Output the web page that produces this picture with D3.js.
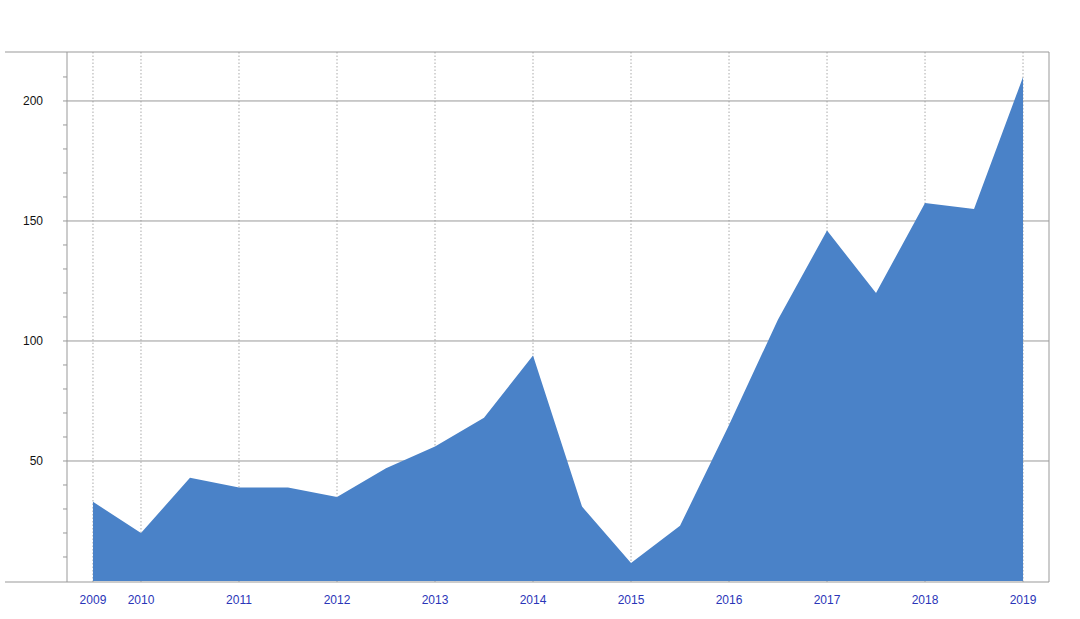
<!DOCTYPE html>
<html><head><meta charset="utf-8">
<script src="https://cdn.jsdelivr.net/npm/d3@7"></script>
<style>body{margin:0;background:#fff;font-family:"Liberation Sans",Arial,sans-serif}</style>
</head><body><svg id="c" width="1080" height="619"></svg>
<script>
const times = [2009.51,2010,2010.5,2011,2011.5,2012,2012.5,2013,2013.5,2014,2014.5,2015,2015.5,2016,2016.5,2017,2017.5,2018,2018.5,2019];
const values = [33,20,43,39,39,35,47,56,68,94,31,7.5,23,65,109,146,120,157.5,155,210];
const xTickPos = [2009.51,2010,2011,2012,2013,2014,2015,2016,2017,2018,2019];
const xTickLabels = ["2009","2010","2011","2012","2013","2014","2015","2016","2017","2018","2019"];
const yTicks = [50,100,150,200];

const svg = d3.select("#c");
const L=67,R=1049,T=52,B=582;
const x = d3.scaleLinear().domain([2009.245,2019.265]).range([L,R]);
const y = d3.scaleLinear().domain([0,220.4]).range([B-1,T]);

// grid
svg.selectAll(".vg").data(xTickPos).join("line")
  .attr("x1",d=>x(d)).attr("x2",d=>x(d)).attr("y1",T).attr("y2",B)
  .attr("stroke","#aaa").attr("stroke-dasharray","1.5,2");
svg.selectAll(".hg").data(yTicks).join("line")
  .attr("x1",L).attr("x2",R).attr("y1",d=>y(d)).attr("y2",d=>y(d))
  .attr("stroke","#999");

// area
const area = d3.area().x((d,i)=>x(times[i])).y0(y(0)).y1(d=>y(d));
svg.append("path").datum(values).attr("d",area).attr("fill","#4a82c8");

// frame
svg.append("line").attr("x1",5).attr("x2",R).attr("y1",T).attr("y2",T).attr("stroke","#999");
svg.append("line").attr("x1",L).attr("x2",L).attr("y1",T).attr("y2",B).attr("stroke","#999");
svg.append("line").attr("x1",R).attr("x2",R).attr("y1",T).attr("y2",B).attr("stroke","#999");
svg.append("line").attr("x1",5).attr("x2",R).attr("y1",B).attr("y2",B).attr("stroke","#999");

// minor y ticks
svg.selectAll(".mt").data(d3.range(10,220,10)).join("line")
  .attr("x1",L-4).attr("x2",L).attr("y1",d=>y(d)).attr("y2",d=>y(d)).attr("stroke","#999");

// labels
svg.selectAll(".yl").data(yTicks).join("text")
  .attr("x",L-24).attr("y",d=>y(d)+4).attr("text-anchor","end")
  .attr("font-size",12).attr("fill","#111").text(d=>d);
svg.selectAll(".xl").data(xTickPos).join("text")
  .attr("x",d=>x(d)).attr("y",604).attr("text-anchor","middle")
  .attr("font-size",12).attr("fill","#2a35b8").text((d,i)=>xTickLabels[i]);
</script></body></html>
